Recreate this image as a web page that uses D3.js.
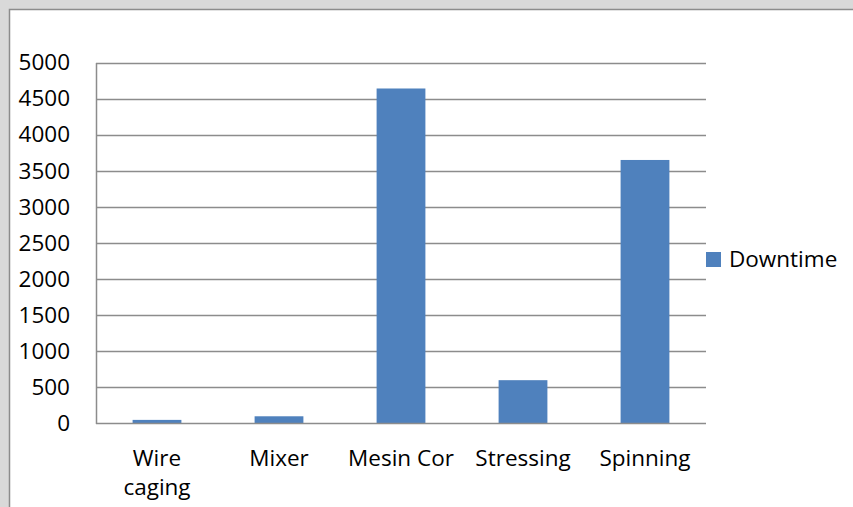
<!DOCTYPE html>
<html>
<head>
<meta charset="utf-8">
<script src="https://cdn.jsdelivr.net/npm/d3@7"></script>
<style>
  html, body { margin: 0; padding: 0; background: #d9d9d9; }
  svg { display: block; }
  text { font-family: "Open Sans", "Noto Sans", sans-serif; fill: #000; }
</style>
</head>
<body>
<svg id="chart" width="853" height="507"></svg>
<script>
// Downtime per machine
const categories = ["Wire caging", "Mixer", "Mesin Cor", "Stressing", "Spinning"];
const downtime = [50, 100, 4640, 600, 3650];
const yTicks = [0, 500, 1000, 1500, 2000, 2500, 3000, 3500, 4000, 4500, 5000];
const seriesName = "Downtime";

const svg = d3.select("#chart");
const W = 853, H = 507;
const plot = { left: 96, right: 706, top: 62.5, bottom: 423.5 };
const barColor = "#4f81bd";
const gridColor = "#8c8c8c";
const fontSize = 22.5;

// chart frame
svg.append("rect")
  .attr("x", 9.5).attr("y", 9.5)
  .attr("width", W).attr("height", H)
  .attr("fill", "#fff")
  .attr("stroke", gridColor).attr("stroke-width", 1.5);

const x = d3.scaleBand()
  .domain(categories)
  .range([plot.left, plot.right])
  .paddingInner(0.6)
  .paddingOuter(0.3);

const y = d3.scaleLinear()
  .domain([0, 5000])
  .range([plot.bottom, plot.top]);

// horizontal gridlines
svg.append("g")
  .selectAll("line")
  .data(yTicks.filter(d => d > 0))
  .join("line")
  .attr("x1", plot.left).attr("x2", plot.right)
  .attr("y1", d => Math.round(y(d)) + 0.5)
  .attr("y2", d => Math.round(y(d)) + 0.5)
  .attr("stroke", gridColor).attr("stroke-width", 1.5);

// y axis
const yAxis = svg.append("g")
  .attr("transform", `translate(${plot.left},0)`)
  .call(d3.axisLeft(y).tickValues(yTicks).tickFormat(d3.format("d")).tickSize(0).tickPadding(26));
yAxis.select(".domain").attr("stroke", gridColor).attr("stroke-width", 1.5);
yAxis.selectAll("text")
  .attr("font-size", fontSize)
  .attr("font-family", "'Open Sans', sans-serif")
  .attr("fill", "#000");

// bars
svg.append("g")
  .selectAll("rect")
  .data(categories.map((c, i) => ({ c, v: downtime[i] })))
  .join("rect")
  .attr("x", d => x(d.c))
  .attr("width", x.bandwidth())
  .attr("y", d => y(d.v))
  .attr("height", d => y(0) - y(d.v))
  .attr("fill", barColor);

// x axis baseline
svg.append("line")
  .attr("x1", plot.left).attr("x2", plot.right)
  .attr("y1", y(0)).attr("y2", y(0))
  .attr("stroke", gridColor).attr("stroke-width", 1.5);

// category labels (wrapped onto two lines where needed)
const labelLines = { "Wire caging": ["Wire", "caging"] };
const xLabels = svg.append("g");
categories.forEach(c => {
  const lines = labelLines[c] || [c];
  const t = xLabels.append("text")
    .attr("x", x(c) + x.bandwidth() / 2)
    .attr("y", 466)
    .attr("text-anchor", "middle")
    .attr("font-size", fontSize);
  lines.forEach((ln, i) => {
    t.append("tspan")
      .attr("x", x(c) + x.bandwidth() / 2)
      .attr("dy", i === 0 ? 0 : 29)
      .text(ln);
  });
});

// legend
const legend = svg.append("g").attr("transform", "translate(706,252)");
legend.append("rect")
  .attr("width", 15).attr("height", 15)
  .attr("fill", barColor);
legend.append("text")
  .attr("x", 23).attr("y", 15)
  .attr("font-size", fontSize)
  .text(seriesName);
</script>
</body>
</html>
